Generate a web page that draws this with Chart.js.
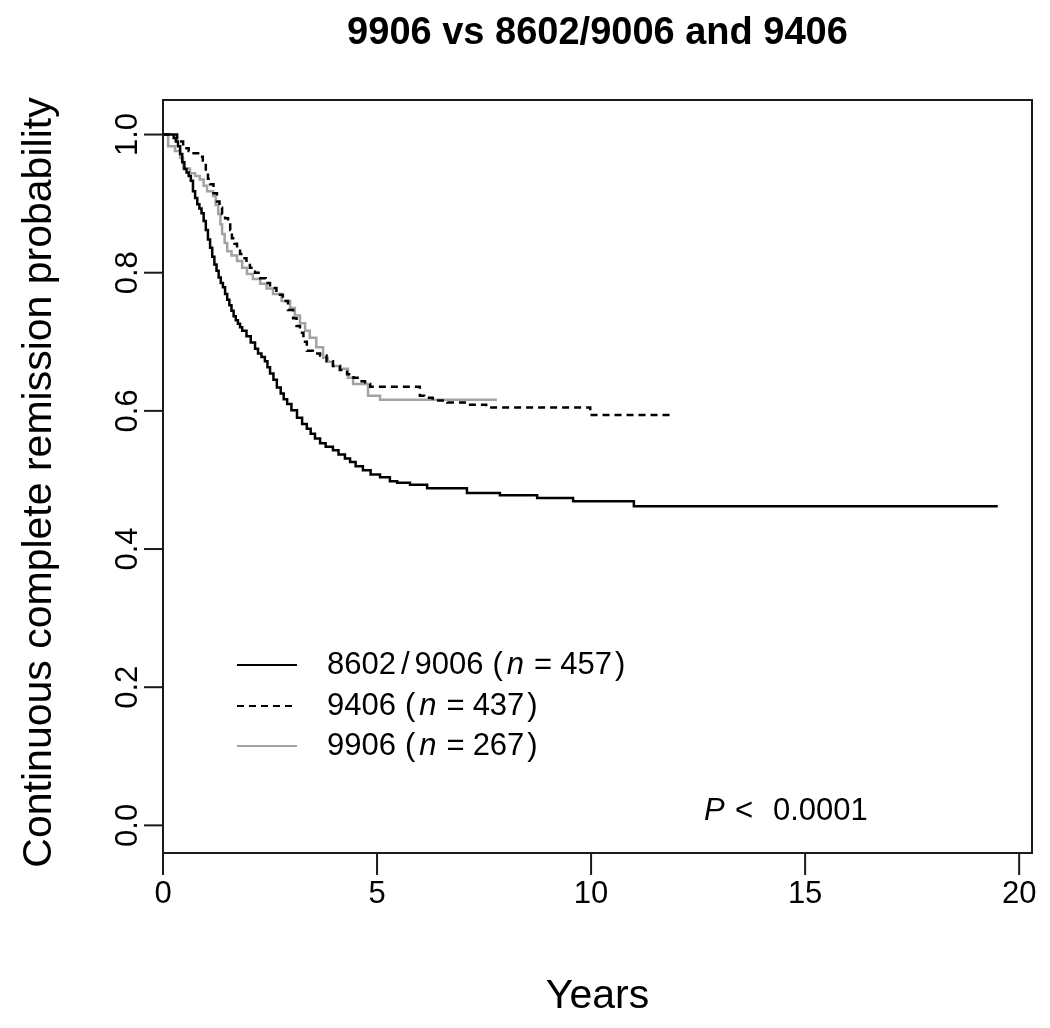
<!DOCTYPE html>
<html>
<head>
<meta charset="utf-8">
<script src="https://cdn.jsdelivr.net/npm/chart.js@4.4.0/dist/chart.umd.min.js"></script>
<style>
html, body { margin: 0; padding: 0; background: #fff; }
</style>
</head>
<body>
<canvas id="km" width="1050" height="1028"></canvas>
<script>
var titleText = '9906 vs 8602/9006 and 9406';
var xTitle = 'Years';
var yTitle = 'Continuous complete remission probability';
var xTicks = [0, 5, 10, 15, 20];
var yTicks = [0.0, 0.2, 0.4, 0.6, 0.8, 1.0];
var yTickLabels = ['0.0', '0.2', '0.4', '0.6', '0.8', '1.0'];
var pValueText = '0.0001';

// 8602/9006 (n = 457)
var timesA = [0, 0.25, 0.30, 0.35, 0.40, 0.45, 0.50, 0.55, 0.60, 0.65, 0.70, 0.75, 0.80, 0.85, 0.90, 0.95, 1.00, 1.05, 1.10, 1.15, 1.20, 1.25, 1.30, 1.35, 1.40, 1.45, 1.50, 1.55, 1.60, 1.65, 1.70, 1.75, 1.80, 1.85, 1.95, 2.05, 2.15, 2.22, 2.30, 2.38, 2.44, 2.50, 2.58, 2.66, 2.75, 2.82, 2.90, 3.00, 3.13, 3.25, 3.36, 3.45, 3.55, 3.67, 3.80, 3.97, 4.10, 4.25, 4.37, 4.50, 4.67, 4.85, 5.07, 5.30, 5.47, 5.77, 6.17, 7.10, 7.87, 8.74, 9.58, 11.0, 19.5];
var survA = [1.0, 0.995, 0.990, 0.983, 0.972, 0.960, 0.950, 0.945, 0.940, 0.933, 0.918, 0.908, 0.899, 0.893, 0.886, 0.875, 0.862, 0.848, 0.836, 0.823, 0.812, 0.803, 0.793, 0.785, 0.779, 0.769, 0.761, 0.753, 0.745, 0.737, 0.731, 0.726, 0.721, 0.716, 0.708, 0.699, 0.690, 0.683, 0.678, 0.672, 0.663, 0.654, 0.645, 0.634, 0.625, 0.617, 0.610, 0.601, 0.590, 0.581, 0.574, 0.567, 0.560, 0.553, 0.548, 0.543, 0.537, 0.531, 0.526, 0.520, 0.514, 0.508, 0.504, 0.498, 0.496, 0.493, 0.488, 0.481, 0.478, 0.474, 0.469, 0.462, 0.462];

// 9406 (n = 437)
var timesB = [0, 0.33, 0.47, 0.60, 0.68, 0.86, 0.93, 1.00, 1.05, 1.10, 1.18, 1.26, 1.32, 1.38, 1.45, 1.52, 1.57, 1.61, 1.67, 1.73, 1.80, 1.87, 1.95, 2.03, 2.15, 2.27, 2.40, 2.50, 2.65, 2.80, 2.92, 3.04, 3.12, 3.20, 3.28, 3.36, 3.50, 3.67, 3.82, 3.97, 4.13, 4.30, 4.45, 4.60, 4.72, 4.84, 6.00, 6.10, 6.30, 6.64, 7.10, 7.55, 9.98, 11.9];
var survB = [1.0, 0.990, 0.980, 0.976, 0.973, 0.968, 0.958, 0.945, 0.936, 0.928, 0.915, 0.903, 0.894, 0.885, 0.879, 0.874, 0.862, 0.850, 0.842, 0.834, 0.827, 0.821, 0.814, 0.807, 0.800, 0.792, 0.785, 0.778, 0.768, 0.759, 0.746, 0.734, 0.723, 0.713, 0.700, 0.687, 0.683, 0.680, 0.672, 0.665, 0.659, 0.653, 0.648, 0.643, 0.639, 0.635, 0.622, 0.619, 0.615, 0.612, 0.609, 0.605, 0.594, 0.594];

// 9906 (n = 267)
var timesC = [0, 0.12, 0.28, 0.40, 0.47, 0.63, 0.75, 0.86, 0.95, 1.03, 1.17, 1.23, 1.29, 1.34, 1.38, 1.44, 1.50, 1.60, 1.73, 1.85, 1.96, 2.10, 2.27, 2.42, 2.57, 2.77, 2.97, 3.08, 3.20, 3.32, 3.43, 3.58, 3.74, 3.85, 3.97, 4.15, 4.32, 4.44, 4.60, 4.79, 5.07, 7.80];
var survC = [1.0, 0.983, 0.976, 0.966, 0.951, 0.944, 0.940, 0.935, 0.926, 0.918, 0.911, 0.898, 0.885, 0.870, 0.856, 0.843, 0.831, 0.825, 0.817, 0.807, 0.798, 0.791, 0.784, 0.777, 0.769, 0.759, 0.749, 0.738, 0.727, 0.716, 0.706, 0.692, 0.677, 0.671, 0.665, 0.661, 0.648, 0.639, 0.639, 0.622, 0.616, 0.616];

function toPoints(times, surv) {
    var pts = [];
    for (var i = 0; i < times.length; i++) {
        pts.push({ x: times[i], y: surv[i] });
    }
    return pts;
}

var font = '"Liberation Sans", Arial, sans-serif';
var axisColor = '#1a1a1a';
var grey = '#a3a3a3';

// draws the R-style frame, ticks, texts and legend
var decorations = {
    id: 'decorations',
    afterDraw: function (chart) {
        var ctx = chart.ctx;
        var area = chart.chartArea;
        var xs = chart.scales.x;
        var ys = chart.scales.y;
        ctx.save();
        ctx.strokeStyle = axisColor;
        ctx.fillStyle = '#000';
        ctx.lineWidth = 2;
        ctx.strokeRect(area.left, area.top, area.right - area.left, area.bottom - area.top);

        // x ticks
        ctx.font = '31px ' + font;
        ctx.textAlign = 'center';
        ctx.textBaseline = 'middle';
        xTicks.forEach(function (v) {
            var px = xs.getPixelForValue(v);
            ctx.beginPath();
            ctx.moveTo(px, area.bottom);
            ctx.lineTo(px, area.bottom + 22);
            ctx.stroke();
            ctx.fillText(String(v), px, 894);
        });

        // y ticks (labels rotated like R)
        yTicks.forEach(function (v, i) {
            var py = ys.getPixelForValue(v);
            ctx.beginPath();
            ctx.moveTo(area.left, py);
            ctx.lineTo(area.left - 19, py);
            ctx.stroke();
            ctx.save();
            ctx.translate(128, py);
            ctx.rotate(-Math.PI / 2);
            ctx.fillText(yTickLabels[i], 0, 0);
            ctx.restore();
        });

        // titles
        ctx.font = 'bold 38px ' + font;
        ctx.fillText(titleText, (area.left + area.right) / 2, 34);
        ctx.font = '41px ' + font;
        ctx.fillText(xTitle, (area.left + area.right) / 2, 997);
        ctx.save();
        ctx.translate(40, (area.top + area.bottom) / 2 + 6);
        ctx.rotate(-Math.PI / 2);
        ctx.fillText(yTitle, 0, 0);
        ctx.restore();

        // legend
        var rows = [
            { y: 665, pre: ['8602', '/', '9006'], n: '457', color: '#000', dash: [] },
            { y: 706, pre: ['9406'], n: '437', color: '#000', dash: [7, 5] },
            { y: 746, pre: ['9906'], n: '267', color: grey, dash: [] }
        ];
        rows.forEach(function (r) {
            ctx.save();
            ctx.strokeStyle = r.color;
            ctx.lineWidth = 2;
            ctx.setLineDash(r.dash);
            ctx.beginPath();
            ctx.moveTo(237, r.y);
            ctx.lineTo(297, r.y);
            ctx.stroke();
            ctx.restore();
            ctx.textAlign = 'left';
            ctx.textBaseline = 'middle';
            var x = 327;
            var normal = '31px ' + font;
            var italic = 'italic 31px ' + font;
            ctx.font = normal;
            r.pre.forEach(function (s) {
                ctx.fillText(s, x, r.y);
                x += ctx.measureText(s).width + 5;
            });
            x += 4;
            ctx.fillText('(', x, r.y);
            x += ctx.measureText('(').width + 4;
            ctx.font = italic;
            ctx.fillText('n', x, r.y);
            x += ctx.measureText('n').width + 10;
            ctx.font = normal;
            ctx.fillText('=', x, r.y);
            x += ctx.measureText('=').width + 8;
            ctx.fillText(r.n, x, r.y);
            x += ctx.measureText(r.n).width + 3;
            ctx.fillText(')', x, r.y);
        });

        // p-value
        ctx.font = 'italic 31px ' + font;
        ctx.fillText('P', 704, 811);
        ctx.font = '31px ' + font;
        ctx.fillText('<', 735, 811);
        ctx.fillText(pValueText, 773, 811);
        ctx.restore();
    }
};

new Chart(document.getElementById('km'), {
    type: 'line',
    data: {
        datasets: [{
            label: '8602/9006',
            data: toPoints(timesA, survA),
            borderColor: '#000',
            borderWidth: 2.5
        }, {
            label: '9406',
            data: toPoints(timesB, survB),
            borderColor: '#000',
            borderWidth: 2.5,
            borderDash: [7, 5]
        }, {
            label: '9906',
            data: toPoints(timesC, survC),
            borderColor: grey,
            borderWidth: 2.5
        }]
    },
    options: {
        responsive: false,
        animation: false,
        layout: {
            padding: { left: 163, right: 18, top: 100, bottom: 175 }
        },
        elements: {
            point: { radius: 0 },
            line: { stepped: true, tension: 0 }
        },
        scales: {
            x: { type: 'linear', min: 0, max: 20.3, display: false },
            y: { type: 'linear', min: -0.04, max: 1.05, display: false }
        },
        plugins: {
            legend: { display: false },
            tooltip: { enabled: false }
        }
    },
    plugins: [decorations]
});
</script>
</body>
</html>
